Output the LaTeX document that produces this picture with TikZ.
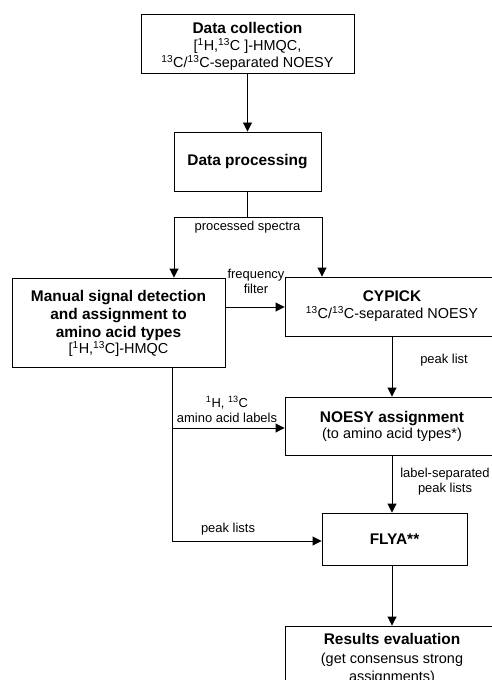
\documentclass[tikz,border=0pt]{standalone}
\usepackage{fontspec}
\setmainfont{Liberation Sans}
\usetikzlibrary{arrows.meta}
\newcommand{\bxt}[1]{{\fontsize{15.5}{18.5}\selectfont\bfseries #1}}
\newcommand{\sups}[1]{\textsuperscript{#1}}
\begin{document}
\begin{tikzpicture}[x=1bp,y=-1bp,
  box/.style={draw, line width=0.9bp, inner sep=0pt, align=center,
    font=\fontsize{14.5}{18}\selectfont},
  btxt/.style={inner sep=0pt, align=center, font=\fontsize{14.5}{18}\selectfont},
  lbl/.style={font=\fontsize{13}{15.5}\selectfont, align=center, inner sep=0pt},
  arr/.style={line width=0.9bp, -{Triangle[length=9bp,width=9bp]}},
  ln/.style={line width=0.9bp}]
\useasboundingbox (0,0) rectangle (492,680);
\clip (0,0) rectangle (492,680);

\node[box, minimum width=213bp, minimum height=59bp] (dc) at (247.5,43.5) {};
\node[btxt] (dct) at (247.5,46.5)
  {\bxt{Data collection}\\[-1bp] [\sups{1}H,\sups{13}C ]-HMQC,\\[-1bp] \sups{13}C/\sups{13}C-separated NOESY};
\node[box, minimum width=147bp, minimum height=59bp] (dp) at (247.5,161.5)
  {\bxt{Data processing}};
\node[box, minimum width=213bp, minimum height=89bp] (man) at (118.5,322.5) {};
\node[btxt] (mant) at (118.5,323.5)
  {\bxt{Manual signal detection}\\ \bxt{and assignment to}\\ \bxt{amino acid types}\\[-1.5bp] [\sups{1}H,\sups{13}C]-HMQC};
\node[box, minimum width=214bp, minimum height=59bp] (cy) at (392,306.5)
  {\bxt{CYPICK}\\[-1bp] \sups{13}C/\sups{13}C-separated NOESY};
\node[box, minimum width=214bp, minimum height=58bp] (noe) at (392,426)
  {\bxt{NOESY assignment}\\[-2bp] (to amino acid types*)};
\node[box, minimum width=145bp, minimum height=52bp] (fly) at (394.5,539)
  {\bxt{FLYA**}};
\node[box, minimum width=214bp, minimum height=66bp] (res) at (392,659)
  {\bxt{Results evaluation}\\[0.5bp] (get consensus strong\\[0bp] assignments)};

% labels
\node[lbl] (lps) at (247.5,227) {processed spectra};
\node[lbl] (lfq) at (256,281.5) {frequency\\ filter};
\node[lbl] (lpk) at (444,360) {peak list};
\node[lbl] (lls) at (445,481.5) {label-separated\\ peak lists};
\node[lbl] (laa) at (227,409.5) {\sups{1}H, \sups{13}C\\ amino acid labels};
\node[lbl] (lpl) at (228,529) {peak lists};

% connectors
\draw[arr] (dc.south) -- (dp.north);
\coordinate (sL) at (174,217);
\coordinate (sR) at (322,217);
\draw[ln] (dp.south) -- (dp.south |- sL);
\draw[ln] (sL) -- (sR);
\draw[arr] (sL) -- (man.north -| sL);
\draw[arr] (sR) -- (cy.north -| sR);
\coordinate (fq) at (0,307);
\draw[arr] (man.east |- fq) -- (cy.west |- fq);
\draw[arr] (cy.south) -- (noe.north);
\coordinate (lm) at (172,428);
\coordinate (lb) at (172,541);
\draw[ln] (man.south -| lb) -- (lb);
\draw[arr] (lm) -- (noe.west |- lm);
\draw[arr] (lb) -- (fly.west |- lb);
\draw[arr] (noe.south) -- (noe.south |- fly.north);
\draw[arr] (fly.south -| noe.south) -- (res.north -| noe.south);
\end{tikzpicture}
\end{document}
